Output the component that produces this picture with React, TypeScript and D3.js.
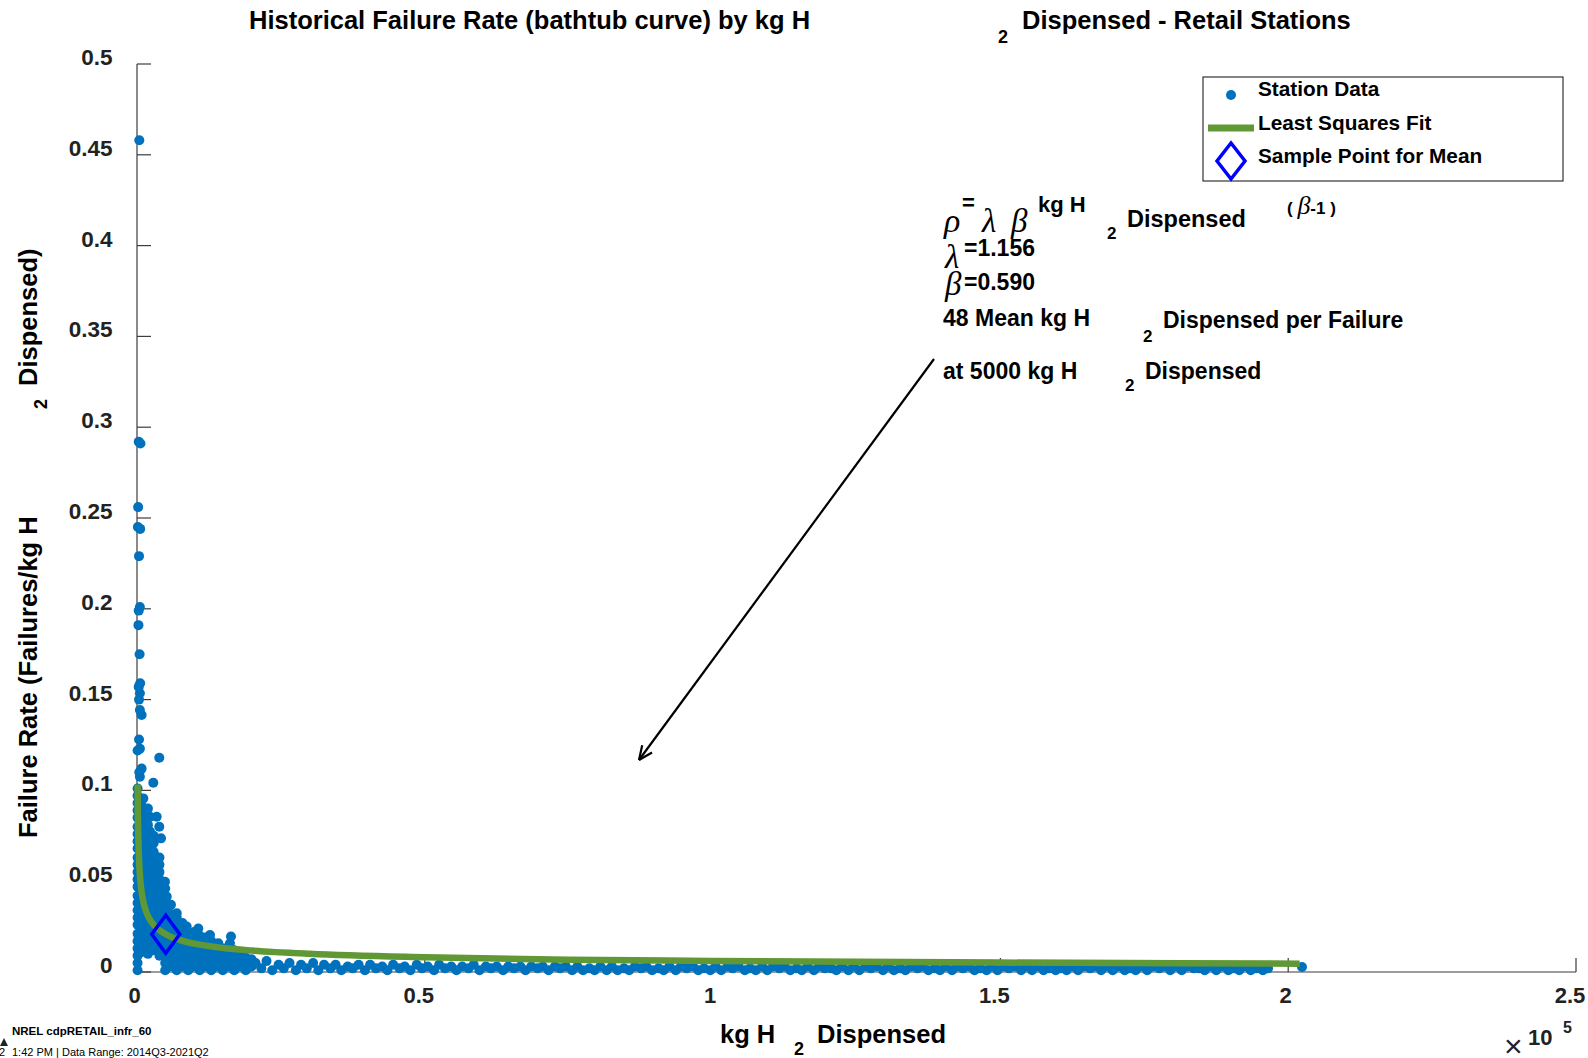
import React from "react";
import * as d3 from "d3";

const W = 1588;
const H = 1058;
const SANS = '"Liberation Sans", Arial, Helvetica, sans-serif';
const SERIF = '"Liberation Serif", "Times New Roman", serif';
const BLUE = "#0072bd";
const GREEN = "#5f9834";
const AXIS = "#3c3c3c";

// ---- axis ticks ----
const xTickValues = [0, 50000, 100000, 150000, 200000, 250000];
const xTickLabels = ["0", "0.5", "1", "1.5", "2", "2.5"];
const yTickValues = [0, 0.05, 0.1, 0.15, 0.2, 0.25, 0.3, 0.35, 0.4, 0.45, 0.5];
const yTickLabels = ["0", "0.05", "0.1", "0.15", "0.2", "0.25", "0.3", "0.35", "0.4", "0.45", "0.5"];

// ---- station data: isolated points (kg H2, failures/kg) ----
const outlierX = [400, 300, 600, 200, 150, 550, 350, 500, 300, 250, 450, 550, 300, 500, 350, 500, 800, 350, 500, 100, 800, 400, 500, 3870, 2830, 1100, 2260, 3420, 3870, 4170, 2260, 2550, 2830, 3700, 4860, 5160, 6900, 8630, 10650, 12680, 14130, 16330, 16150, 202400];
const outlierY = [0.458, 0.292, 0.291, 0.256, 0.245, 0.244, 0.229, 0.201, 0.199, 0.191, 0.175, 0.159, 0.157, 0.1535, 0.150, 0.1443, 0.1415, 0.128, 0.123, 0.122, 0.112, 0.110, 0.1075, 0.118, 0.1042, 0.0956, 0.0855, 0.0855, 0.080, 0.0736, 0.0773, 0.069, 0.0617, 0.0534, 0.0497, 0.0415, 0.0323, 0.025, 0.024, 0.0204, 0.0158, 0.0195, 0.0158, 0.0028];

// ---- station data: dense cluster near origin, by column (kg) and rates (x 1/1000) ----
const clusterColumnX = [100, 900, 1900, 2900, 3900, 4900, 5900, 6900, 7900, 8900, 9900, 10900, 11900, 12900, 13900, 14900, 15900, 16900, 17900, 18900, 19900];
const clusterColumnY = [
  [1, 5, 9, 13, 17, 21, 26, 30, 34, 38, 42, 47, 51, 55, 59, 63, 68, 72, 76, 80, 85, 89, 93, 97, 101],
  [11, 15, 19, 24, 28, 32, 36, 40, 45, 49, 53, 57, 61, 66, 70, 74, 78, 83, 87, 91, 95],
  [10, 14, 18, 22, 26, 30, 34, 38, 43, 47, 51, 55, 59, 64, 68, 72, 77, 81, 86, 90],
  [12, 16, 20, 24, 28, 32, 36, 41, 45, 49, 53, 58, 62, 66, 71, 75],
  [9, 13, 17, 21, 25, 30, 34, 38, 42, 46, 51, 55, 59, 63],
  [1, 5, 9, 13, 17, 21, 26, 30, 34, 38, 42, 46],
  [3, 7, 11, 15, 19, 24, 28, 32, 37],
  [1, 5, 9, 13, 17, 21, 26, 30],
  [3, 7, 11, 15, 19, 23, 27],
  [1, 5, 9, 13, 17, 21],
  [3, 7, 11, 15, 19, 22],
  [1, 5, 9, 13, 17, 20],
  [3, 7, 11, 15, 19],
  [1, 5, 9, 13, 17],
  [3, 7, 11, 15],
  [1, 5, 9, 13],
  [3, 7, 11, 14],
  [1, 5, 9, 12],
  [3, 7, 10],
  [1, 5, 8],
  [3, 7],
];

// ---- station data: long low band (x in 1000 kg, rate x 1/1000) ----
const bandXk = [
  20.6, 21.6, 22.5, 23.5, 24.6, 25.5, 26.5, 27.6, 28.5, 29.5,
  30.6, 31.5, 32.5, 33.6, 34.5, 35.5, 36.6, 37.5, 38.5, 39.6,
  40.5, 41.5, 42.6, 43.5, 44.5, 45.6, 46.5, 47.5, 48.6, 49.5,
  50.5, 51.6, 52.5, 53.5, 54.6, 55.5, 56.5, 57.6, 58.5, 59.5,
  60.6, 61.5, 62.5, 63.6, 64.5, 65.5, 66.6, 67.5, 68.5, 69.6,
  70.5, 71.5, 72.6, 73.5, 74.5, 75.6, 76.5, 77.5, 78.6, 79.5,
  80.5, 81.6, 82.5, 83.5, 84.6, 85.5, 86.5, 87.6, 88.5, 89.5,
  90.6, 91.5, 92.5, 93.6, 94.5, 95.5, 96.6, 97.5, 98.5, 99.6,
  100.5, 101.5, 102.6, 103.5, 104.5, 105.6, 106.5, 107.5, 108.6, 109.5,
  110.5, 111.6, 112.5, 113.5, 114.6, 115.5, 116.5, 117.6, 118.5, 119.5,
  120.6, 121.5, 122.5, 123.6, 124.5, 125.5, 126.6, 127.5, 128.5, 129.6,
  130.5, 131.5, 132.6, 133.5, 134.5, 135.6, 136.5, 137.5, 138.6, 139.5,
  140.5, 141.6, 142.5, 143.5, 144.6, 145.5, 146.5, 147.6, 148.5, 149.5,
  150.6, 151.5, 152.5, 153.6, 154.5, 155.5, 156.6, 157.5, 158.5, 159.6,
  160.5, 161.5, 162.6, 163.5, 164.5, 165.6, 166.5, 167.5, 168.6, 169.5,
  170.5, 171.6, 172.5, 173.5, 174.6, 175.5, 176.5, 177.6, 178.5, 179.5,
  180.6, 181.5, 182.5, 183.6, 184.5, 185.5, 186.6, 187.5, 188.5, 189.6,
  190.5, 191.5, 192.6, 193.5, 194.5, 195.6, 196.5,
];
const bandYm = [
  5, 2, 6, 1, 4, 2, 5, 1, 4, 2,
  5, 1, 4, 2, 4, 1, 3, 2, 4, 1,
  4, 2, 3, 1, 4, 2, 3, 1, 4, 2,
  3, 1, 4, 2, 3, 1, 3, 2, 4, 1,
  3, 2, 3, 1, 3, 2, 3, 1, 3, 2,
  3, 1, 3, 2, 3, 1, 3, 1, 2, 1,
  3, 1, 3, 1, 2, 1, 3, 2, 3, 1,
  2, 1, 3, 1, 3, 2, 3, 1, 2, 1,
  3, 1, 3, 2, 3, 1, 2, 1, 3, 1,
  3, 2, 3, 1, 2, 1, 3, 1, 3, 2,
  2, 1, 3, 1, 3, 1, 3, 2, 3, 1,
  3, 1, 2, 1, 3, 2, 3, 1, 2, 1,
  3, 1, 3, 2, 3, 1, 2, 1, 3, 1,
  3, 2, 3, 1, 3, 1, 3, 1, 2, 1,
  2, 1, 3, 1, 3, 2, 3, 1, 3, 1,
  3, 1, 2, 1, 3, 1, 3, 2, 3, 1,
  3, 1, 3, 2, 2, 1, 3, 1, 3, 1,
  2, 1, 3, 1, 2, 1, 2,
];

// ---- least squares fit (kg, failures/kg) ----
const fitX = [100, 150, 200, 300, 500, 750, 1000, 1500, 2000, 3000, 5000, 7500, 10000, 15000, 20000, 30000, 50000, 75000, 100000, 150000, 202000];
const fitY = [0.1033, 0.0874, 0.0777, 0.0658, 0.0534, 0.0452, 0.0402, 0.034, 0.0302, 0.0256, 0.0208, 0.0176, 0.0156, 0.0132, 0.0118, 0.01, 0.0081, 0.0068, 0.0061, 0.0052, 0.0046];

// ---- sample point for mean ----
const meanX = [5000];
const meanY = [0.0208];

const fitLambda = 1.156;
const fitBeta = 0.59;
const meanKgPerFailure = 48;
const sampleKg = 5000;

const legendLabels = ["Station Data", "Least Squares Fit", "Sample Point for Mean"];

export default function App() {
  const x = d3.scaleLinear().domain([0, 250000]).range([137, 1576]);
  const y = d3.scaleLinear().domain([0, 0.5]).range([972, 64]);

  const points: { x: number; y: number }[] = [];
  bandXk.forEach((v, i) => points.push({ x: v * 1000, y: bandYm[i] / 1000 }));
  clusterColumnX.forEach((cx, i) => clusterColumnY[i].forEach((v) => points.push({ x: cx, y: v / 1000 })));
  outlierX.forEach((v, i) => points.push({ x: v, y: outlierY[i] }));

  const fitPath = d3
    .line<number>()
    .x((d) => x(d))
    .y((_, i) => y(fitY[i]))
    .curve(d3.curveMonotoneX)(fitX) as string;

  const diamond = (cx: number, cy: number, hw: number, hh: number) =>
    `M${cx},${cy - hh}L${cx + hw},${cy}L${cx},${cy + hh}L${cx - hw},${cy}Z`;

  // annotation arrow
  const a0 = [934, 359];
  const a1 = [639, 760];
  const dx = a1[0] - a0[0];
  const dy = a1[1] - a0[1];
  const len = Math.hypot(dx, dy);
  const ux = dx / len;
  const uy = dy / len;
  const ah = 15;
  const ang = (24 * Math.PI) / 180;
  const rot = (c: number, s: number) => [ux * c - uy * s, ux * s + uy * c];
  const h1 = rot(Math.cos(ang), Math.sin(ang));
  const h2 = rot(Math.cos(-ang), Math.sin(-ang));

  const bold = { fontFamily: SANS, fontWeight: 700, fill: "#000" } as const;

  return (
    <svg
      width={W}
      height={H}
      style={{ position: "absolute", left: 0, top: 0, background: "#fff" }}
      xmlns="http://www.w3.org/2000/svg"
    >
      <rect x={0} y={0} width={W} height={H} fill="#fff" />

      {/* title */}
      <text x={249} y={29} fontSize={25.5} {...bold}>Historical Failure Rate (bathtub curve) by kg H</text>
      <text x={998} y={43} fontSize={18} {...bold}>2</text>
      <text x={1022} y={29} fontSize={25.5} {...bold}>Dispensed - Retail Stations</text>

      {/* axes */}
      <line x1={137} y1={64} x2={137} y2={972} stroke={AXIS} strokeWidth={1.2} />
      <line x1={137} y1={972} x2={1576} y2={972} stroke={AXIS} strokeWidth={1.2} />
      {yTickValues.map((v, i) => (
        <g key={"yt" + i}>
          <line x1={137} x2={151} y1={y(v)} y2={y(v)} stroke={AXIS} strokeWidth={1.2} />
          <text x={112.5} y={y(v) + 1} fontSize={22.5} textAnchor="end" {...bold} fill="#222">
            {yTickLabels[i]}
          </text>
        </g>
      ))}
      {xTickValues.map((v, i) => (
        <g key={"xt" + i}>
          <line x1={x(v)} x2={x(v)} y1={972} y2={958} stroke={AXIS} strokeWidth={1.2} />
          <text
            x={x(v) - (xTickLabels[i].includes(".") ? 6 : 2.5)}
            y={1003}
            fontSize={22}
            textAnchor="middle"
            {...bold}
            fill="#222"
          >
            {xTickLabels[i]}
          </text>
        </g>
      ))}

      {/* station data */}
      <g fill={BLUE}>
        {points.map((p, i) => (
          <circle key={i} cx={x(p.x)} cy={y(p.y)} r={5} />
        ))}
      </g>

      {/* fit */}
      <path d={fitPath} fill="none" stroke={GREEN} strokeWidth={6.5} />

      {/* sample point */}
      {meanX.map((v, i) => (
        <path key={"m" + i} d={diamond(x(v), y(meanY[i]), 14, 19)} fill="none" stroke="#0000ff" strokeWidth={3.5} />
      ))}

      {/* x label */}
      <text x={720} y={1043} fontSize={25.5} {...bold}>kg H</text>
      <text x={794} y={1055} fontSize={18} {...bold}>2</text>
      <text x={817} y={1043} fontSize={25.5} {...bold}>Dispensed</text>

      {/* exponent */}
      <text x={1528} y={1045} fontSize={22} {...bold} fill="#222">
        <tspan x={1504} y={1057} fontSize={32} fontWeight={400}>×</tspan>
        <tspan x={1528} y={1045}>10</tspan>
        <tspan x={1563} y={1033} fontSize={16}>5</tspan>
      </text>

      {/* y label */}
      <g transform="rotate(-90)">
        <text x={-838} y={37} fontSize={25.5} {...bold}>Failure Rate (Failures/kg H</text>
        <text x={-409} y={47} fontSize={18} {...bold}>2</text>
        <text x={-386} y={37} fontSize={25.5} {...bold}>Dispensed)</text>
      </g>

      {/* legend */}
      <rect x={1203} y={77} width={360} height={104} fill="#fff" stroke="#333" strokeWidth={1.2} />
      <circle cx={1231} cy={95} r={5} fill={BLUE} />
      <line x1={1208} x2={1254} y1={128} y2={128} stroke={GREEN} strokeWidth={7} />
      <path d={diamond(1231, 161, 14, 18)} fill="none" stroke="#0000ff" strokeWidth={3.5} />
      {legendLabels.map((t, i) => (
        <text key={t} x={1258} y={96 + i * 33.5} fontSize={20.8} {...bold}>{t}</text>
      ))}

      {/* annotation */}
      <g>
        <text x={944} y={232} fontSize={23.5} {...bold}>
          <tspan fontFamily={SERIF} fontStyle="italic" fontWeight={400} fontSize={34}>ρ</tspan>
          <tspan x={962} y={210} fontSize={22}>=</tspan>
          <tspan x={982} y={232} fontFamily={SERIF} fontStyle="italic" fontWeight={400} fontSize={33}>λ</tspan>
          <tspan x={1011} y={232} fontFamily={SERIF} fontStyle="italic" fontWeight={400} fontSize={33}>β</tspan>
          <tspan x={1038} y={212} fontSize={22}>kg H</tspan>
          <tspan x={1107} y={239} fontSize={17}>2</tspan>
          <tspan x={1127} y={227}>Dispensed</tspan>
          <tspan x={1287} y={214} fontSize={17}>{"( "}</tspan>
          <tspan fontFamily={SERIF} fontStyle="italic" fontWeight={400} fontSize={26}>β</tspan>
          <tspan fontSize={17}>{"-1 )"}</tspan>
        </text>

        <text x={945} y={268} fontSize={23} {...bold}>
          <tspan fontFamily={SERIF} fontStyle="italic" fontWeight={400} fontSize={33}>λ</tspan>
          <tspan x={964} y={256}>{"=" + fitLambda.toFixed(3)}</tspan>
        </text>
        <text x={945} y={295} fontSize={23} {...bold}>
          <tspan fontFamily={SERIF} fontStyle="italic" fontWeight={400} fontSize={33}>β</tspan>
          <tspan x={964} y={290}>{"=" + fitBeta.toFixed(3)}</tspan>
        </text>

        <text x={943} y={326} fontSize={23} {...bold}>
          {meanKgPerFailure + " Mean kg H"}
          <tspan x={1143} y={342} fontSize={17}>2</tspan>
          <tspan x={1163} y={328}>Dispensed per Failure</tspan>
        </text>

        <text x={943} y={379} fontSize={23} {...bold}>
          {"at " + sampleKg + " kg H"}
          <tspan x={1125} y={391} fontSize={17}>2</tspan>
          <tspan x={1145} y={379}>Dispensed</tspan>
        </text>

        <line x1={a0[0]} y1={a0[1]} x2={a1[0]} y2={a1[1]} stroke="#000" strokeWidth={2.2} />
        <line x1={a1[0]} y1={a1[1]} x2={a1[0] - h1[0] * ah} y2={a1[1] - h1[1] * ah} stroke="#000" strokeWidth={2.2} />
        <line x1={a1[0]} y1={a1[1]} x2={a1[0] - h2[0] * ah} y2={a1[1] - h2[1] * ah} stroke="#000" strokeWidth={2.2} />
      </g>

      {/* footer */}
      <path d="M0,1046 L4,1038 L8,1046 Z" fill="#222" />
      <text x={12} y={1035} fontSize={11.5} {...bold}>NREL cdpRETAIL_infr_60</text>
      <text x={-1} y={1056} fontSize={11} fontFamily={SANS} fill="#000">
        2<tspan x={12}>1:42 PM | Data Range: 2014Q3-2021Q2</tspan>
      </text>
    </svg>
  );
}
